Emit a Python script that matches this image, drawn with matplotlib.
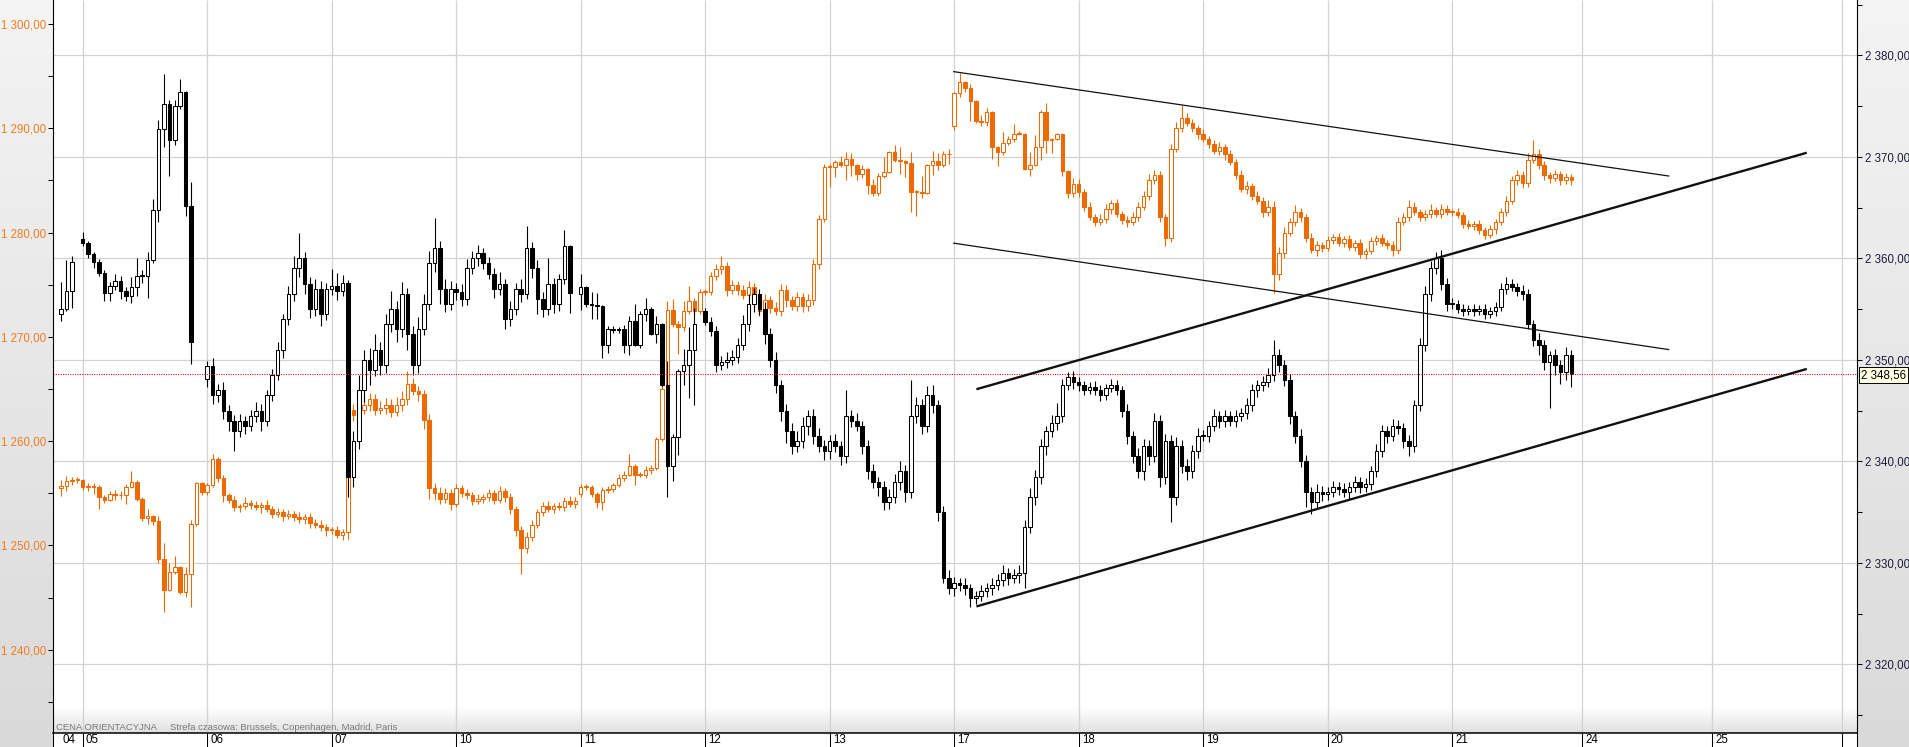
import sys
import numpy as np
import matplotlib
matplotlib.use("Agg")
import matplotlib.pyplot as plt
from matplotlib.colors import LinearSegmentedColormap

plt.rcParams['font.family'] = ['Liberation Sans', 'DejaVu Sans']

# sessions shown on the time axis
day_labels = ['04', '05', '06', '07', '10', '11', '12', '13', '17', '18', '19', '20', '21']
future_labels = ['24', '25']

# black series (right axis) - open of the first candle of each session,
# then closes and wick lengths (above / below the body) per candle
bk_day_open = [2354.5, 2361.9, 2348.1, 2357.0, 2357.0, 2356.5, 2354.8, 2341.0, 2327.5, 2347.8, 2342.5, 2336.8, 2355.5]
bk_close = [
    [2355.0, 2356.8, 2359.6],
    [2361.5, 2360.4, 2359.6, 2358.6, 2356.6, 2357.3, 2357.8, 2356.8, 2356.3, 2357.2, 2358.3, 2358.3, 2359.8, 2364.8, 2372.7, 2375.2, 2371.7, 2375.0, 2376.4, 2365.2, 2351.8],
    [2349.4, 2346.5, 2347.0, 2345.0, 2344.0, 2343.0, 2344.0, 2343.5, 2344.5, 2345.0, 2344.0, 2346.5, 2348.5, 2351.0, 2354.0, 2356.5, 2359.0, 2360.0, 2357.5, 2355.0, 2357.0, 2354.5, 2357.0],
    [2357.3, 2356.8, 2357.6, 2338.5, 2342.0, 2347.0, 2350.0, 2349.0, 2351.0, 2349.5, 2353.5, 2355.0, 2353.0, 2356.5, 2352.5, 2349.5, 2353.0, 2355.5, 2359.5, 2361.0, 2357.0, 2355.5, 2357.0],
    [2356.7, 2356.0, 2359.0, 2360.0, 2360.5, 2359.5, 2358.5, 2357.0, 2357.5, 2354.0, 2355.0, 2357.0, 2356.5, 2361.0, 2359.0, 2356.0, 2355.0, 2357.5, 2355.5, 2358.0, 2361.2, 2356.6],
    [2357.2, 2355.5, 2355.4, 2355.3, 2351.5, 2353.0, 2352.9, 2353.0, 2351.5, 2353.8, 2351.5, 2354.5, 2355.0, 2352.5, 2353.5, 2347.5, 2339.5, 2342.4, 2348.9, 2349.5, 2351.0, 2353.5],
    [2353.7, 2352.8, 2349.5, 2349.8, 2350.0, 2350.3, 2351.5, 2353.5, 2355.5, 2356.5, 2355.0, 2352.5, 2350.0, 2347.5, 2345.0, 2343.0, 2341.5, 2342.0, 2343.5, 2344.5, 2342.5, 2341.5, 2341.0],
    [2342.0, 2341.5, 2340.5, 2344.5, 2344.0, 2343.5, 2341.5, 2339.0, 2338.0, 2337.5, 2336.0, 2336.5, 2338.0, 2339.0, 2337.0, 2344.5, 2345.5, 2343.5, 2346.5, 2345.5, 2335.0, 2328.5, 2327.5],
    [2328.0, 2327.8, 2327.5, 2326.5, 2326.7, 2327.2, 2327.5, 2327.8, 2328.3, 2329.0, 2328.5, 2328.8, 2329.0, 2333.5, 2336.5, 2338.5, 2341.5, 2343.0, 2343.8, 2344.5, 2347.5, 2348.3, 2347.8],
    [2347.5, 2347.0, 2347.3, 2347.0, 2346.5, 2347.2, 2347.5, 2347.0, 2345.0, 2342.5, 2340.5, 2339.0, 2341.5, 2340.5, 2344.0, 2338.5, 2342.0, 2336.5, 2341.5, 2339.5, 2339.0, 2341.0, 2342.5],
    [2342.5, 2343.5, 2344.5, 2344.0, 2344.5, 2344.0, 2344.5, 2344.8, 2345.5, 2347.0, 2347.5, 2347.8, 2348.5, 2350.5, 2349.5, 2348.0, 2344.5, 2342.5, 2340.0, 2337.0, 2336.0, 2337.0, 2336.8],
    [2337.0, 2337.5, 2337.3, 2337.0, 2337.5, 2338.0, 2337.5, 2337.8, 2339.0, 2341.0, 2343.0, 2342.5, 2343.5, 2343.3, 2342.0, 2341.5, 2345.5, 2351.5, 2356.5, 2359.0, 2360.0, 2357.5, 2355.5],
    [2355.5, 2355.0, 2354.8, 2355.0, 2354.8, 2355.0, 2354.5, 2354.8, 2355.2, 2357.0, 2357.5, 2357.2, 2356.8, 2356.5, 2353.5, 2352.0, 2351.5, 2349.8, 2350.5, 2349.5, 2348.8, 2350.5, 2348.56],
]
bk_up = [
    [2.7, 3.0, 0.6],
    [0.7, 0.2, 0.2, 0.3, 0.2, 0.4, 0.7, 0.5, 0.4, 1.0, 1.7, 0.5, 0.8, 1.0, 0.9, 3.0, 0.4, 0.6, 1.3, 0.1, 2.3],
    [0.5, 0.8, 0.6, 0.8, 0.5, 0.6, 0.7, 0.5, 0.6, 0.8, 0.6, 0.5, 0.6, 0.8, 0.5, 0.8, 1.2, 2.5, 0.6, 0.7, 1.0, 0.8, 0.6],
    [1.6, 1.3, 0.8, 0.3, 1.0, 1.5, 1.0, 1.2, 1.5, 0.8, 1.0, 1.8, 0.8, 1.2, 0.6, 0.8, 1.2, 1.0, 1.2, 3.0, 0.7, 1.0, 0.8],
    [0.6, 0.8, 0.9, 0.7, 0.8, 0.5, 0.6, 0.5, 1.2, 0.5, 0.8, 0.6, 1.0, 2.2, 0.6, 0.8, 0.7, 2.5, 0.6, 0.5, 1.6, 0.1],
    [1.3, 0.1, 1.2, 1.2, 0.1, 0.3, 0.3, 0.2, 0.4, 0.5, 1.7, 0.3, 1.1, 0.2, 0.8, 0.1, 2.4, 0.3, 0.2, 1.6, 2.2, 1.6],
    [0.3, 0.5, 0.5, 0.6, 0.8, 0.7, 0.6, 0.9, 1.0, 0.6, 0.5, 0.7, 0.6, 0.8, 0.5, 0.6, 0.8, 1.0, 0.9, 0.6, 0.7, 0.8, 0.6],
    [0.6, 0.7, 0.5, 2.5, 0.6, 0.8, 0.5, 0.6, 0.7, 0.5, 0.6, 0.8, 0.7, 1.0, 0.6, 3.5, 0.8, 0.6, 0.9, 1.0, 0.5, 0.6, 0.8],
    [0.6, 0.5, 0.7, 0.4, 0.5, 0.6, 0.5, 0.7, 0.6, 0.8, 0.5, 0.6, 0.8, 0.7, 0.9, 0.6, 0.7, 0.5, 0.8, 1.2, 0.6, 0.5, 0.6],
    [0.5, 0.4, 0.5, 0.6, 0.5, 0.4, 0.6, 0.5, 0.4, 0.6, 0.5, 0.8, 0.7, 0.6, 0.8, 0.6, 0.7, 0.6, 0.9, 0.6, 0.7, 0.6, 0.8],
    [0.6, 0.5, 0.7, 0.5, 0.6, 0.5, 0.6, 0.5, 0.7, 0.6, 0.5, 0.6, 0.7, 1.5, 0.6, 0.5, 0.6, 0.5, 0.7, 0.6, 0.5, 0.8, 0.6],
    [0.5, 0.6, 0.5, 0.6, 0.5, 0.6, 0.5, 0.6, 0.5, 0.7, 0.6, 0.5, 0.7, 0.6, 0.5, 0.6, 0.5, 0.6, 0.8, 0.7, 0.6, 0.8, 0.6],
    [0.6, 0.4, 0.5, 0.4, 0.5, 0.4, 0.5, 0.4, 0.5, 0.6, 0.7, 0.5, 0.4, 0.6, 0.5, 0.4, 0.6, 0.5, 0.4, 0.6, 0.5, 0.8, 0.5],
]
bk_dn = [
    [0.7, 0.2, 1.7],
    [0.3, 0.4, 0.6, 0.3, 0.8, 0.8, 0.4, 0.8, 0.5, 0.7, 0.9, 0.7, 2.2, 0.3, 1.2, 1.7, 3.6, 0.5, 0.3, 1.0, 2.2],
    [0.8, 0.9, 0.7, 0.8, 1.0, 2.0, 0.6, 0.8, 0.5, 0.6, 1.0, 0.5, 0.6, 0.5, 0.8, 0.6, 0.7, 0.8, 1.0, 0.9, 0.7, 1.2, 0.6],
    [0.6, 0.9, 0.5, 2.0, 1.0, 0.8, 1.2, 1.5, 0.6, 1.0, 0.8, 0.8, 1.2, 0.8, 1.5, 1.0, 0.8, 0.6, 0.6, 0.8, 1.5, 0.8, 0.6],
    [0.8, 0.7, 0.6, 0.5, 0.8, 0.6, 0.5, 0.9, 0.6, 1.0, 0.7, 0.6, 0.8, 0.5, 0.9, 1.5, 0.8, 0.6, 0.9, 0.7, 0.5, 2.0],
    [1.6, 0.3, 1.4, 1.3, 1.3, 0.8, 0.3, 0.3, 0.8, 1.0, 0.1, 0.3, 0.7, 0.1, 0.8, 0.2, 3.0, 1.4, 1.8, 1.4, 3.3, 5.5],
    [0.3, 0.5, 0.7, 0.5, 0.6, 0.5, 0.6, 0.5, 0.7, 0.8, 0.6, 0.9, 0.7, 0.8, 1.0, 1.2, 0.8, 0.6, 0.7, 0.9, 0.8, 0.6, 0.9],
    [0.8, 0.6, 0.9, 0.7, 0.6, 0.5, 0.8, 0.7, 0.6, 0.9, 0.8, 0.7, 0.6, 0.8, 1.0, 0.6, 0.7, 0.8, 0.6, 0.7, 0.9, 0.5, 0.6],
    [0.8, 0.6, 0.7, 0.9, 0.6, 0.5, 0.6, 0.7, 0.5, 0.6, 0.7, 0.5, 0.8, 1.5, 0.6, 0.8, 0.7, 0.9, 0.6, 0.7, 0.6, 0.5, 0.7],
    [0.6, 0.5, 0.4, 0.5, 0.6, 0.5, 0.4, 0.5, 0.6, 0.8, 0.7, 0.6, 0.8, 0.9, 0.6, 1.0, 0.7, 2.5, 0.8, 0.7, 0.8, 0.6, 0.7],
    [0.5, 0.6, 0.5, 0.7, 0.6, 0.5, 0.6, 0.5, 0.6, 0.5, 0.7, 0.6, 0.5, 0.6, 0.7, 0.6, 0.8, 0.7, 0.6, 1.5, 1.2, 0.6, 0.7],
    [0.6, 0.5, 0.6, 0.5, 0.7, 0.5, 0.6, 0.5, 0.6, 0.5, 0.6, 0.7, 0.5, 0.6, 0.7, 1.0, 0.6, 0.5, 0.6, 0.7, 0.5, 0.6, 0.7],
    [0.5, 0.4, 0.5, 0.4, 0.5, 0.4, 0.5, 0.4, 0.5, 0.4, 0.5, 0.4, 0.5, 0.6, 0.5, 0.6, 1.0, 0.8, 4.5, 1.0, 1.2, 0.8, 1.2],
]

# orange series (left axis)
or_day_open = [1255.5, 1256.3, 1255.1, 1251.5, 1254.0, 1254.9, 1274.3, 1286.3, 1290.2, 1284.7, 1289.5, 1278.5, 1282.0]
or_close = [
    [1255.7, 1256.2, 1256.3, 1256.3],
    [1255.6, 1255.6, 1255.6, 1254.6, 1254.4, 1254.9, 1254.8, 1254.8, 1255.6, 1256.1, 1254.5, 1252.6, 1252.8, 1252.3, 1248.7, 1245.7, 1247.5, 1247.9, 1245.5, 1247.3, 1252.1, 1256.0, 1255.1],
    [1255.8, 1258.3, 1256.5, 1254.8, 1254.4, 1253.7, 1253.8, 1254.1, 1253.9, 1253.7, 1253.9, 1253.5, 1253.0, 1253.2, 1252.8, 1253.0, 1252.7, 1252.5, 1252.7, 1252.2, 1252.0, 1251.8, 1251.5],
    [1251.5, 1251.0, 1251.3, 1263.0, 1262.5, 1263.0, 1263.5, 1264.0, 1263.0, 1263.2, 1263.5, 1262.8, 1263.5, 1264.0, 1265.5, 1264.8, 1264.5, 1262.0, 1255.5, 1255.0, 1254.5, 1255.0, 1254.0],
    [1255.5, 1255.0, 1254.8, 1254.3, 1254.5, 1254.6, 1255.0, 1254.4, 1255.2, 1254.6, 1253.5, 1251.5, 1249.8, 1250.8, 1252.0, 1253.2, 1253.8, 1253.5, 1253.8, 1253.7, 1254.3, 1254.0, 1254.3],
    [1255.6, 1255.6, 1254.95, 1254.2, 1255.3, 1255.4, 1255.8, 1256.5, 1256.8, 1257.6, 1256.8, 1256.8, 1257.2, 1257.4, 1260.2, 1265.0, 1272.6, 1271.2, 1270.9, 1272.5, 1273.4, 1272.5, 1274.3],
    [1274.3, 1275.8, 1276.5, 1276.8, 1274.5, 1275.0, 1274.5, 1274.0, 1274.8, 1273.3, 1272.5, 1273.5, 1272.8, 1272.5, 1274.5, 1273.5, 1273.0, 1273.8, 1273.0, 1273.5, 1277.0, 1281.3, 1286.3],
    [1286.3, 1286.8, 1286.5, 1287.1, 1286.5, 1285.6, 1286.1, 1284.6, 1283.8, 1285.4, 1285.8, 1287.7, 1287.0, 1286.9, 1286.7, 1283.9, 1283.9, 1283.8, 1286.5, 1286.9, 1286.5, 1287.5, 1287.5],
    [1293.35, 1294.4, 1293.9, 1292.6, 1290.7, 1290.6, 1291.6, 1288.2, 1287.7, 1288.6, 1289.0, 1289.5, 1289.5, 1286.1, 1286.5, 1288.2, 1291.6, 1288.9, 1289.0, 1289.45, 1285.9, 1283.8, 1284.7],
    [1283.9, 1282.5, 1281.5, 1281.0, 1281.3, 1282.3, 1282.8, 1281.8, 1281.2, 1281.0, 1281.5, 1282.5, 1283.5, 1285.0, 1285.5, 1281.5, 1279.5, 1288.0, 1290.0, 1291.0, 1290.5, 1290.0, 1289.5],
    [1289.0, 1288.5, 1287.8, 1288.2, 1287.5, 1286.8, 1285.5, 1284.2, 1284.5, 1283.5, 1283.0, 1282.0, 1282.5, 1276.0, 1278.0, 1280.0, 1281.0, 1282.0, 1281.5, 1279.5, 1278.3, 1278.8, 1278.5],
    [1279.3, 1279.6, 1279.0, 1279.4, 1278.6, 1279.0, 1277.9, 1278.2, 1279.2, 1279.5, 1279.0, 1278.8, 1278.3, 1281.0, 1281.5, 1282.5, 1282.0, 1281.5, 1281.8, 1282.2, 1281.8, 1282.3, 1282.0],
    [1282.0, 1281.7, 1280.8, 1280.6, 1280.8, 1280.2, 1279.8, 1280.3, 1281.0, 1282.0, 1283.0, 1285.0, 1285.5, 1284.8, 1287.0, 1287.5, 1286.5, 1285.5, 1285.2, 1285.6, 1285.0, 1285.3, 1285.0],
]
or_up = [
    [0.6, 0.5, 0.3, 0.3],
    [0.1, 0.4, 0.4, 0.2, 0.2, 0.3, 0.4, 0.4, 0.3, 1.0, 0.2, 0.1, 0.7, 0.1, 0.5, 1.5, 0.8, 1.1, 0.1, 0.6, 0.3, 0.1, 0.1],
    [0.2, 0.5, 0.2, 0.3, 0.2, 0.3, 0.2, 0.5, 0.3, 0.4, 0.3, 0.5, 0.3, 0.4, 0.3, 0.4, 0.3, 0.5, 0.3, 0.4, 0.3, 0.4, 0.3],
    [0.3, 0.4, 0.3, 3.5, 0.6, 0.5, 0.8, 0.6, 0.5, 0.7, 0.6, 0.5, 0.7, 0.8, 1.2, 0.6, 0.5, 0.4, 0.6, 0.5, 0.6, 0.5, 0.4],
    [0.4, 0.3, 0.4, 0.3, 0.4, 0.3, 0.4, 0.3, 0.5, 0.3, 0.4, 0.3, 0.4, 0.5, 0.4, 0.3, 0.4, 0.5, 0.3, 0.4, 0.3, 0.4, 0.3],
    [0.3, 0.3, 0.2, 0.2, 0.3, 0.3, 0.2, 0.4, 0.3, 1.2, 0.2, 0.2, 0.4, 0.3, 0.2, 0.2, 0.8, 1.0, 0.3, 0.9, 1.5, 0.3, 0.3],
    [0.3, 0.4, 0.5, 1.0, 0.4, 0.5, 0.4, 0.5, 0.6, 0.4, 0.5, 0.6, 0.4, 0.5, 0.6, 0.5, 0.4, 0.5, 0.4, 0.6, 0.5, 0.4, 0.3],
    [0.3, 0.2, 0.5, 0.6, 0.5, 0.1, 0.4, 0.1, 0.5, 0.3, 1.4, 0.1, 0.7, 1.2, 0.1, 1.0, 0.2, 1.5, 0.1, 0.9, 0.7, 0.3, 0.5],
    [0.1, 0.9, 0.1, 0.35, 0.1, 0.6, 0.3, 0.1, 0.1, 1.0, 0.3, 0.9, 0.2, 0.05, 1.2, 1.2, 0.2, 0.8, 0.1, 0.1, 0.1, 0.1, 0.5],
    [0.4, 0.3, 0.4, 0.3, 0.5, 0.4, 0.3, 0.4, 0.3, 0.4, 0.5, 0.4, 0.5, 0.6, 0.5, 0.4, 0.3, 0.5, 0.6, 1.2, 0.5, 0.4, 0.3],
    [0.4, 0.3, 0.4, 0.5, 0.3, 0.4, 0.3, 0.5, 0.4, 0.3, 0.5, 0.4, 0.6, 0.5, 0.6, 0.5, 0.4, 0.6, 0.4, 0.3, 0.5, 0.4, 0.3],
    [0.4, 0.3, 0.4, 0.3, 0.4, 0.3, 0.4, 0.3, 0.4, 0.3, 0.4, 0.3, 0.4, 0.5, 0.4, 0.6, 0.4, 0.3, 0.4, 0.5, 0.3, 0.4, 0.3],
    [0.3, 0.4, 0.3, 0.4, 0.3, 0.4, 0.3, 0.4, 0.3, 0.4, 0.5, 0.4, 0.5, 0.4, 0.6, 1.4, 0.5, 0.4, 0.3, 0.4, 0.3, 0.4, 0.3],
]
or_dn = [
    [0.8, 0.5, 0.4, 0.3],
    [0.3, 0.4, 0.7, 1.1, 0.3, 0.1, 0.4, 0.3, 0.8, 0.1, 0.2, 0.3, 0.5, 0.3, 0.4, 2.1, 0.1, 0.2, 0.2, 0.4, 3.2, 0.2, 0.3],
    [0.3, 0.2, 0.4, 0.6, 0.3, 0.4, 0.5, 0.3, 0.4, 0.3, 0.6, 0.3, 0.4, 0.3, 0.5, 0.3, 0.4, 0.3, 0.4, 0.5, 0.3, 0.4, 0.6],
    [0.4, 0.3, 0.5, 0.7, 0.6, 0.5, 0.4, 0.6, 0.5, 0.4, 0.6, 0.5, 0.4, 0.6, 0.5, 0.4, 0.6, 0.8, 1.0, 0.6, 0.5, 0.4, 0.6],
    [0.3, 0.4, 0.3, 0.4, 0.3, 0.4, 0.3, 0.4, 0.3, 0.4, 0.5, 0.6, 2.5, 0.5, 0.4, 0.3, 0.4, 0.3, 0.4, 0.3, 0.4, 0.3, 0.4],
    [0.3, 0.3, 0.3, 0.6, 0.8, 0.3, 0.3, 0.2, 0.3, 0.1, 1.0, 0.2, 0.3, 0.3, 0.2, 0.2, 0.9, 0.3, 2.5, 0.3, 0.3, 0.3, 0.3],
    [0.3, 0.3, 0.3, 0.5, 0.6, 0.4, 0.5, 0.4, 0.5, 0.6, 0.5, 0.4, 0.5, 0.4, 0.5, 0.6, 0.4, 0.5, 0.6, 0.5, 0.4, 0.5, 0.3],
    [1.9, 1.0, 0.2, 1.5, 1.1, 0.6, 0.4, 0.9, 0.3, 0.3, 0.2, 0.1, 0.2, 1.3, 1.4, 1.9, 2.3, 0.5, 0.1, 1.0, 0.5, 0.2, 0.9],
    [0.4, 0.35, 0.45, 1.9, 0.2, 0.4, 0.4, 1.1, 1.3, 0.3, 0.2, 0.3, 0.1, 0.1, 0.7, 0.1, 1.2, 1.3, 1.3, 0.1, 0.5, 0.5, 0.35],
    [0.5, 0.4, 0.3, 0.4, 0.3, 0.4, 0.5, 0.3, 0.4, 0.5, 0.3, 0.4, 0.3, 0.4, 0.3, 0.5, 0.8, 0.4, 0.3, 0.4, 0.3, 0.4, 0.5],
    [0.3, 0.4, 0.3, 0.4, 0.5, 0.3, 0.4, 0.3, 0.5, 0.4, 0.3, 0.5, 0.4, 1.8, 0.5, 0.4, 0.3, 0.4, 0.5, 0.4, 0.3, 0.5, 0.4],
    [0.3, 0.4, 0.3, 0.4, 0.3, 0.4, 0.3, 0.4, 0.3, 0.4, 0.3, 0.4, 0.5, 0.4, 0.3, 0.4, 0.3, 0.4, 0.3, 0.4, 0.3, 0.4, 0.3],
    [0.4, 0.3, 0.4, 0.3, 0.4, 0.3, 0.4, 0.3, 0.4, 0.3, 0.4, 0.3, 0.4, 0.5, 0.4, 0.3, 0.4, 0.5, 0.4, 0.3, 0.4, 0.3, 0.4],
]

last_price = 2348.56

# trend lines drawn on the black series (candle index, right axis value)
trend_x0 = [164.8, 164.8, 169.1, 169.1]
trend_x1 = [297.1, 297.1, 322.5, 322.5]
trend_y0 = [2378.4, 2361.5, 2347.1, 2325.7]
trend_y1 = [2368.1, 2351.0, 2370.4, 2349.1]
trend_lw = [0.9, 0.9, 1.7, 1.7]

# ---------------------------------------------------------------------------
W, H = 1909, 747
ORANGE = '#ec6a00'
ORANGE_TXT = '#f47b20'
NAVY = '#1c1c3c'
FS = 8.3

# candle index where each session starts (23 candle slots per session)
day_start = [0] + [4 + 23 * j for j in range(len(day_labels) - 1)]
future_start = [281, 305]
x_end = 329
xmin, xmax = -1.487, 331.78


def price_fmt(v):
    return f"{v:,.2f}".replace(',', ' ').replace('.', ',')


fig = plt.figure(figsize=(W / 100, H / 100), dpi=100)
fig.patch.set_facecolor('white')

grad = np.linspace(0, 1, 256).reshape(-1, 1)
side_cmap = LinearSegmentedColormap.from_list('side', ['#f4f4f4', '#dadada'])
for x0, w in [(0, 53), (1857, 52)]:
    pa = fig.add_axes([x0 / W, 0, w / W, 1])
    pa.imshow(grad, aspect='auto', cmap=side_cmap, extent=[0, 1, 0, 1])
    pa.axis('off')

ax_or = fig.add_axes([53 / W, 14 / H, 1804 / W, 733 / H])
ax_bk = ax_or.twinx()

# light strip at the bottom of the plot
strip_cmap = LinearSegmentedColormap.from_list('strip', ['#ffffff', '#e0e0e0'])
ax_or.imshow(grad, aspect='auto', cmap=strip_cmap, extent=(0, 1, 0, 26 / 733),
             transform=ax_or.transAxes, zorder=0)

# grid
grid_vals = np.arange(2320, 2381, 10)
sep = day_start[1:] + future_start + [x_end]
ax_or.vlines(sep, 0, 1, transform=ax_or.get_xaxis_transform(), color='#d2d2d2', lw=0.9, zorder=0.5)
ax_or.hlines(grid_vals, xmin, xmax, transform=ax_bk.transData, color='#d2d2d2', lw=0.9, zorder=0.5)


def draw_candles(ax, day_open, closes, ups, dns, color, z):
    xs, o, c, h, l = [], [], [], [], []
    for d, (op, cl, up, dn) in enumerate(zip(day_open, closes, ups, dns)):
        if not (len(cl) == len(up) == len(dn)):
            print('length mismatch in session', day_labels[d], len(cl), len(up), len(dn), file=sys.stderr)
        prev = op
        for k, (cc, uu, dd) in enumerate(zip(cl, up, dn)):
            xs.append(day_start[d] + k)
            o.append(prev)
            c.append(cc)
            h.append(max(prev, cc) + uu)
            l.append(min(prev, cc) - dd)
            prev = cc
    xs, o, c, h, l = map(np.array, (xs, o, c, h, l))
    ax.vlines(xs, l, h, color=color, lw=0.8, zorder=z)
    bottom = np.minimum(o, c)
    height = np.maximum(np.abs(c - o), 0.06)
    face = ['white' if cc >= oo else color for oo, cc in zip(o, c)]
    ax.bar(xs, height, width=0.66, bottom=bottom, color=face, edgecolor=color,
           linewidth=0.75, zorder=z + 0.1)


draw_candles(ax_or, or_day_open, or_close, or_up, or_dn, ORANGE, 2)
draw_candles(ax_bk, bk_day_open, bk_close, bk_up, bk_dn, 'black', 2)

ax_bk.axhline(last_price, color='#ff0000', lw=0.75, ls=(0, (1, 1.3)), zorder=3)
for x0, x1, y0, y1, lw in zip(trend_x0, trend_x1, trend_y0, trend_y1, trend_lw):
    ax_bk.plot([x0, x1], [y0, y1], color='#111111', lw=lw, solid_capstyle='butt', zorder=4)

# limits
ax_or.set_xlim(xmin, xmax)
ax_or.set_ylim(1232.02, 1302.30)
ax_bk.set_ylim(2313.23, 2385.45)

# spines
for a in (ax_or, ax_bk):
    a.spines['top'].set_visible(False)
ax_or.spines['right'].set_visible(False)
ax_bk.spines['left'].set_visible(False)
ax_bk.spines['bottom'].set_visible(False)
ax_or.spines['left'].set_linewidth(0.8)
ax_bk.spines['right'].set_linewidth(0.8)
ax_or.spines['bottom'].set_linewidth(1.1)

# y axes
ax_or.set_yticks(np.arange(1240, 1301, 10))
ax_or.set_yticks(np.arange(1235, 1300, 10), minor=True)
ax_or.set_yticklabels([price_fmt(v) for v in np.arange(1240, 1301, 10)])
ax_or.tick_params(axis='y', which='both', direction='out', length=3.6, width=0.75,
                  labelsize=FS, labelcolor=ORANGE_TXT, pad=1.2)
ax_bk.set_yticks(grid_vals)
ax_bk.set_yticks(np.arange(2315, 2386, 10), minor=True)
ax_bk.set_yticklabels([price_fmt(v) for v in grid_vals])
ax_bk.tick_params(axis='y', which='both', direction='out', length=3.6, width=0.75,
                  labelsize=FS, labelcolor=NAVY, pad=2.0)

# x axis: session separators with labels to their right
ax_or.set_xticks([xmin] + sep + [xmax])
ax_or.set_xticklabels([])
ax_or.tick_params(axis='x', which='both', direction='out', length=10.1, width=0.75)
label_pos = [-0.37] + day_start[1:] + future_start
for lab, xp in zip(day_labels + future_labels, label_pos):
    ax_or.text(xp + 0.55, -7 / 733, lab, transform=ax_or.get_xaxis_transform(),
               ha='left', va='center', fontsize=FS, color='black', clip_on=False)

fig.text(56 / W, 1 - 727 / H, 'CENA ORIENTACYJNA', fontsize=6.8, color='#7a7a7a', va='center')
fig.text(170 / W, 1 - 727 / H, 'Strefa czasowa: Brussels, Copenhagen, Madrid, Paris',
         fontsize=6.8, color='#7a7a7a', va='center')

fig.text(1861 / W, 1 - 375 / H, price_fmt(last_price), fontsize=FS, color='black',
         ha='left', va='center',
         bbox=dict(boxstyle='square,pad=0.15', fc='#ffffe1', ec='black', lw=0.7))

fig.savefig('out.png', dpi=100, facecolor=fig.get_facecolor())
